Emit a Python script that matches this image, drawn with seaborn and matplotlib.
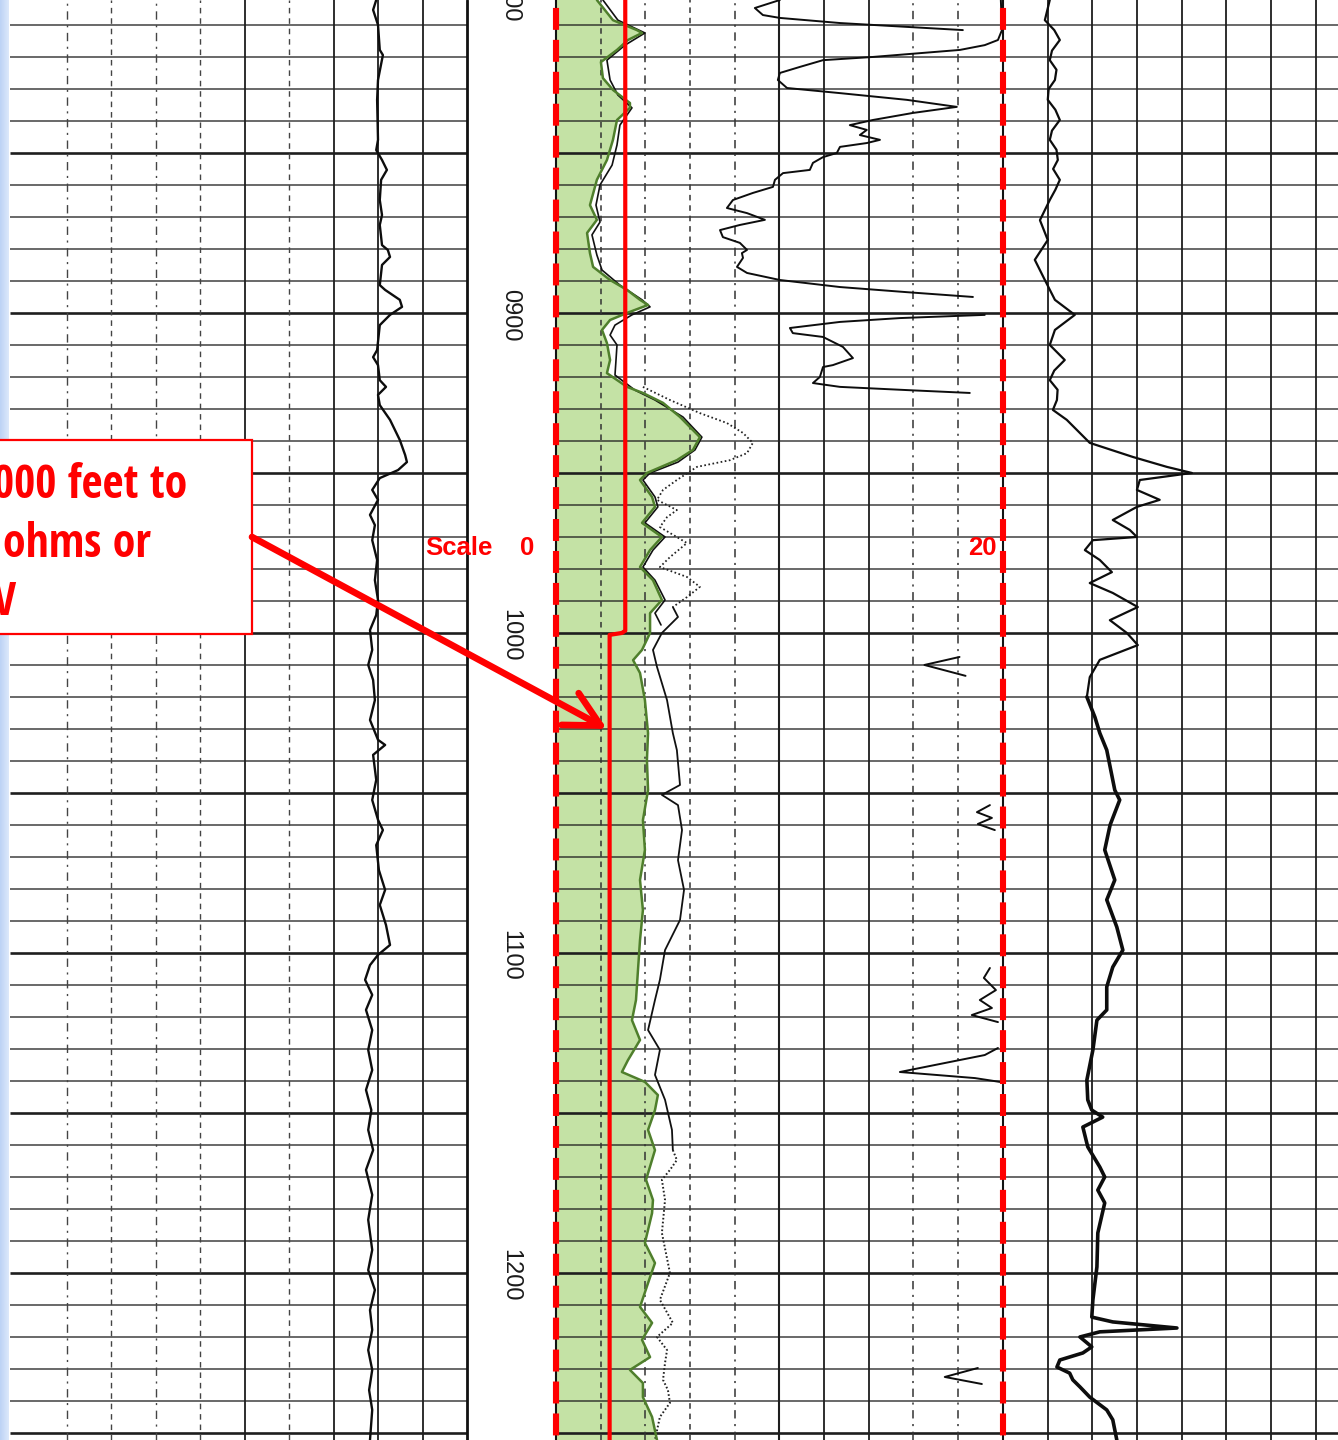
import numpy as np
import pandas as pd
import matplotlib
matplotlib.use("Agg")
import matplotlib.pyplot as plt
import seaborn as sns
from matplotlib import font_manager
from matplotlib.font_manager import FontProperties
from matplotlib.patches import Rectangle

# ------------------------------------------------------------------
# Log section: depth window (ft) and chart grid
# ------------------------------------------------------------------
DEPTH_TOP, DEPTH_BASE = 802.2, 1252.2
grid_depths = list(range(810, 1251, 10))
label_depths = [800, 900, 1000, 1100, 1200]
label_texts = ["0800", "0900", "1000", "1100", "1200"]

# Track 2 scale (SP / resistivity), 0 to 20 across the track
scale_left, scale_right = 0, 20

# ------------------------------------------------------------------
# Track 1 curve (left track, chart divisions)
# ------------------------------------------------------------------
t1_depth = [802.2, 805.3, 810.0, 817.8, 819.4, 827.2, 833.4, 845.9, 849.1, 852.2,
            855.3, 858.4, 864.7, 869.4, 872.5, 878.8, 880.3, 882.5, 885.0, 891.3,
            892.8, 895.9, 898.1, 900.6, 903.8, 911.6, 913.8, 916.3, 921.0, 923.1,
            925.6, 928.8, 933.4, 939.7, 944.4, 946.6, 949.1, 951.6, 955.3, 958.4,
            963.1, 966.3, 971.0, 977.2, 983.5, 989.7, 994.4, 999.1, 1005.3, 1010.0,
            1014.7, 1021.0, 1027.2, 1033.4, 1035.0, 1038.1, 1045.9, 1052.2, 1058.4, 1061.6,
            1066.3, 1074.1, 1080.3, 1085.0, 1091.3, 1097.5, 1100.6, 1103.8, 1108.4, 1113.1,
            1117.8, 1124.1, 1130.3, 1136.6, 1142.8, 1149.1, 1155.3, 1161.6, 1167.8, 1175.6,
            1183.4, 1192.8, 1199.1, 1205.3, 1211.6, 1217.8, 1224.1, 1230.3, 1236.6, 1242.8,
            1252.2]
t1_value = [7.96, 7.89, 8.00, 8.04, 8.11, 8.00, 7.98, 8.00, 7.96, 8.09,
            8.20, 8.07, 8.04, 8.09, 8.04, 8.09, 8.22, 8.27, 8.09, 8.04,
            8.16, 8.49, 8.54, 8.27, 8.04, 7.98, 7.89, 8.00, 8.04, 8.18,
            8.00, 8.04, 8.27, 8.49, 8.61, 8.65, 8.45, 8.04, 7.87, 8.00,
            7.82, 7.93, 7.87, 7.98, 7.93, 8.00, 7.96, 7.82, 7.87, 7.78,
            7.89, 7.93, 7.82, 8.00, 8.16, 7.89, 7.96, 7.87, 8.00, 8.11,
            7.96, 8.02, 8.16, 8.04, 8.18, 8.27, 8.00, 7.82, 7.71, 7.87,
            7.73, 7.87, 7.78, 7.87, 7.73, 7.85, 7.78, 7.89, 7.73, 7.87,
            7.78, 7.87, 7.78, 7.93, 7.82, 7.87, 7.78, 7.87, 7.80, 7.87,
            7.82]

# ------------------------------------------------------------------
# Track 2: SP curve (shaded), short normal, deep curve, long normal
# ------------------------------------------------------------------
sp_depth = [802.2, 808.5, 811.6, 812.5, 814.7, 817.8, 821.6, 826.6, 830.3, 834.4,
            835.9, 839.7, 845.9, 852.2, 858.4, 866.3, 870.9, 875.0, 881.3, 885.6,
            889.7, 892.8, 895.9, 897.5, 900.0, 902.2, 905.3, 909.4, 914.7, 918.8,
            923.1, 925.0, 928.1, 932.5, 938.8, 942.8, 946.0, 950.0, 952.2, 957.5,
            960.6, 965.6, 970.0, 974.1, 979.4, 983.5, 989.7, 993.8, 1000.0, 1005.3,
            1008.5, 1012.5, 1021.0, 1031.3, 1039.7, 1049.1, 1058.5, 1067.8, 1077.2, 1086.6,
            1096.0, 1105.3, 1114.7, 1121.0, 1127.2, 1133.5, 1137.2, 1140.3, 1144.4, 1149.1,
            1155.3, 1161.6, 1170.9, 1177.2, 1181.3, 1190.6, 1196.9, 1201.3, 1210.6, 1215.6,
            1220.9, 1226.3, 1230.3, 1234.4, 1238.8, 1245.0, 1252.2]
sp_value = [1.83, 2.55, 3.62, 3.85, 3.22, 2.73, 2.01, 2.10, 2.55, 3.31,
            3.31, 2.73, 2.55, 2.28, 1.83, 1.52, 1.83, 1.39, 1.52, 1.66,
            2.42, 3.18, 3.76, 4.12, 3.18, 2.42, 2.06, 2.28, 2.42, 2.28,
            3.18, 3.89, 4.79, 5.55, 6.44, 6.13, 5.41, 4.07, 3.76, 4.30,
            4.43, 3.85, 4.74, 4.21, 3.76, 4.34, 4.74, 4.21, 4.21, 3.85,
            3.45, 3.76, 3.98, 4.12, 4.07, 4.12, 3.89, 3.98, 3.76, 3.89,
            3.76, 3.67, 3.58, 3.40, 3.76, 3.22, 2.95, 3.98, 4.56, 4.43,
            4.12, 4.43, 4.03, 4.34, 4.30, 3.98, 4.43, 4.21, 3.76, 4.30,
            3.85, 4.21, 3.31, 3.89, 3.89, 4.30, 4.52]

short_depth = [802.2, 808.5, 812.5, 816.3, 821.0, 827.2, 831.9, 835.9, 841.3, 847.5,
               853.8, 860.0, 866.3, 871.6, 875.6, 881.9, 886.6, 891.3, 895.9, 898.1,
               900.6, 903.8, 906.9, 910.0, 915.3, 919.4, 924.1, 927.2, 932.5, 938.8,
               942.8, 946.6, 950.0, 952.2, 957.5, 960.6, 965.6, 970.0, 974.1, 979.4,
               983.5, 989.7, 993.8, 997.5]
short_value = [2.10, 2.77, 3.98, 3.09, 2.28, 2.42, 2.77, 3.40, 2.86, 2.73,
               2.51, 1.97, 1.79, 1.97, 1.61, 1.83, 2.06, 2.86, 3.85, 4.21,
               3.40, 2.64, 2.42, 2.73, 2.68, 2.64, 3.53, 4.43, 5.68, 6.53,
               6.22, 5.46, 4.21, 3.89, 4.43, 4.56, 3.98, 4.88, 4.34, 3.89,
               4.43, 4.88, 4.43, 4.70]

deep_upper_depth = [923.1, 927.2, 931.3, 934.4, 937.5, 940.6, 943.8, 946.0, 948.1, 952.2,
                    955.3, 958.4, 961.6, 963.8, 966.9, 971.9, 976.3, 979.4, 982.5, 985.6,
                    988.8, 991.9]
deep_upper_value = [3.89, 5.10, 6.44, 7.65, 8.37, 8.81, 8.55, 7.79, 6.31, 5.41,
                    4.79, 4.52, 5.41, 4.97, 4.65, 5.86, 5.10, 4.65, 5.86, 6.44,
                    5.86, 5.23]

deep_mid_depth = [991.9, 995.0, 1000.0, 1005.3, 1010.6, 1021.0, 1031.3, 1036.6, 1047.5, 1050.6,
                  1053.8, 1061.6, 1071.0, 1080.3, 1089.7, 1099.1, 1108.4, 1114.7, 1124.1, 1130.3,
                  1138.1, 1145.9, 1155.3, 1161.6]
deep_mid_value = [5.23, 5.46, 4.74, 4.34, 4.52, 4.97, 5.23, 5.41, 5.55, 4.74,
                  5.46, 5.64, 5.46, 5.73, 5.55, 4.88, 4.65, 4.43, 4.12, 4.65,
                  4.43, 4.88, 5.19, 5.23]

deep_lower_depth = [1161.6, 1164.7, 1167.8, 1170.9, 1177.2, 1187.5, 1200.0, 1208.4, 1215.6, 1220.0,
                    1224.1, 1228.1, 1233.4, 1236.6, 1240.6, 1245.0, 1252.2]
deep_lower_value = [5.23, 5.41, 5.10, 4.74, 4.88, 4.74, 5.10, 4.65, 5.23, 4.52,
                    4.97, 4.88, 4.79, 5.01, 5.10, 4.65, 4.43]

# long normal: traces that run off scale are recorded as separate pieces
ln_a_depth = [802.2, 804.7, 806.9, 807.8, 809.4, 810.6, 811.6]
ln_a_value = [10.02, 8.90, 9.26, 10.02, 12.71, 15.70, 18.21]

ln_b_depth = [802.2, 811.6, 814.7, 816.3, 817.8, 820.0, 821.0, 823.1, 825.0, 827.2,
              829.7, 831.3, 833.4, 835.6, 837.5, 839.7, 841.3, 842.8, 844.4, 845.9,
              846.9, 848.1, 850.0, 851.3, 853.1, 855.3, 856.3, 858.4, 860.6, 862.5,
              864.7, 867.2, 868.8, 870.9, 872.5, 874.1, 876.3, 878.1, 880.3, 881.3,
              882.8, 885.6, 887.5, 889.7, 891.9, 893.5, 895.0]
ln_b_value = [19.91, 19.96, 19.78, 19.19, 18.08, 14.18, 11.95, 10.92, 10.02, 9.93,
              10.34, 12.71, 15.70, 17.94, 15.97, 14.18, 13.15, 13.91, 13.60, 14.50,
              13.91, 12.71, 12.57, 11.95, 11.50, 11.36, 10.16, 9.80, 9.71, 8.81,
              7.92, 7.65, 8.55, 9.35, 8.23, 7.34, 7.47, 8.23, 8.55, 8.32,
              8.37, 8.10, 8.55, 10.02, 12.71, 15.70, 18.66]

ln_c_depth = [900.6, 901.6, 902.8, 904.7, 906.3, 907.5, 910.6, 914.1, 916.3, 916.9,
              920.0, 921.9, 923.1, 924.1, 925.0]
ln_c_value = [19.19, 15.39, 12.71, 10.47, 10.60, 11.95, 12.84, 13.29, 12.39, 11.95,
              11.81, 11.50, 12.71, 15.70, 18.52]

ln_d_depth = [1007.5, 1010.0, 1013.4]
ln_d_value = [18.06, 16.49, 18.33]
ln_e_depth = [1053.8, 1056.0, 1057.8, 1059.7, 1061.6]
ln_e_value = [19.42, 18.84, 19.51, 18.88, 19.64]
ln_f_depth = [1104.7, 1107.8, 1111.6, 1114.7, 1117.2, 1119.4, 1121.6]
ln_f_value = [19.42, 19.15, 19.69, 18.97, 19.51, 18.61, 19.78]
ln_g_depth = [1129.7, 1131.9, 1137.2, 1139.1, 1140.3]
ln_g_value = [19.78, 19.19, 15.39, 18.75, 19.87]
ln_h_depth = [1229.7, 1232.5, 1234.7]
ln_h_value = [18.88, 17.40, 19.06]

# water-resistivity marker line (scale units) with its step at 1000 ft
rw_depth = [802.2, 999.3, 1000.0, 1000.6, 1252.2]
rw_value = [3.10, 3.10, 2.95, 2.40, 2.40]

# ------------------------------------------------------------------
# Track 3 curve (right track, same chart units continued)
# ------------------------------------------------------------------
t3_depth = [802.2, 808.5, 811.6, 814.7, 818.0, 821.0, 824.0, 827.2, 830.0, 833.4,
            836.5, 839.7, 843.0, 845.9, 849.0, 852.2, 855.0, 858.4, 861.5, 864.7,
            871.0, 877.2, 883.4, 889.7, 895.9, 900.6, 905.3, 910.0, 914.7, 918.0,
            921.0, 924.0, 927.2, 930.3, 933.4, 940.6, 945.0, 948.1, 950.0, 952.2,
            955.3, 958.4, 960.6, 964.7, 967.8, 970.0, 971.0, 974.1, 977.2, 981.0,
            984.4, 987.5, 991.9, 996.0, 1000.0, 1003.8, 1008.4, 1013.8, 1020.0, 1026.3,
            1031.3, 1036.6, 1049.1, 1052.2, 1060.0, 1067.8, 1077.2, 1083.4, 1091.9, 1099.1,
            1104.4, 1110.6, 1117.8, 1121.0, 1130.3, 1139.7, 1145.9, 1149.1, 1151.3, 1154.4,
            1160.6, 1166.9, 1170.0, 1174.1, 1178.1, 1187.5, 1198.1, 1208.4, 1213.8, 1215.3,
            1217.2, 1218.4, 1220.0, 1223.1, 1225.0, 1227.2, 1229.4, 1231.3, 1233.4, 1235.6,
            1238.8, 1242.8, 1245.9, 1252.2]
t3_value = [22.10, 21.88, 22.30, 22.55, 22.20, 22.10, 22.40, 22.33, 22.05, 22.01,
            22.35, 22.55, 22.20, 22.10, 22.40, 22.46, 22.25, 22.55, 22.35, 22.10,
            21.66, 22.01, 21.43, 21.88, 22.33, 23.22, 22.33, 22.10, 22.77, 22.30,
            22.10, 22.45, 22.42, 22.24, 22.86, 23.89, 25.82, 27.34, 28.46, 26.13,
            26.00, 27.02, 26.00, 24.92, 25.68, 26.00, 24.03, 23.67, 24.34, 24.88,
            23.89, 24.92, 26.04, 24.79, 25.55, 26.04, 24.34, 23.89, 23.76, 24.12,
            24.34, 24.65, 25.01, 25.23, 24.80, 24.56, 25.01, 24.65, 25.10, 25.37,
            24.92, 24.65, 24.65, 24.21, 24.03, 23.76, 23.80, 23.98, 24.47, 23.58,
            23.80, 24.34, 24.56, 24.25, 24.56, 24.25, 24.21, 24.03, 23.98, 24.92,
            27.79, 24.34, 23.45, 23.98, 23.58, 22.55, 22.42, 22.99, 23.13, 23.45,
            23.89, 24.65, 24.92, 25.10]

# ------------------------------------------------------------------
# Figure layout (pixel based, 1338 x 1440)
# ------------------------------------------------------------------
W, H = 1338, 1440
sns.set_theme(style="white")
plt.rcParams["font.family"] = ["Liberation Sans", "DejaVu Sans"]
plt.rcParams["lines.scale_dashes"] = False


def pick_note_font():
    """Prefer a narrow bold sans for the callout; fall back to Liberation Sans Bold."""
    wanted = [("Liberation Sans Narrow", 33), ("Open Sans Condensed", 33),
              ("Roboto Condensed", 34), ("Noto Sans Condensed", 33),
              ("Noto Sans", 33), ("DejaVu Sans", 29)]
    fonts = font_manager.fontManager.ttflist
    for fam, size in wanted:
        for f in fonts:
            w = f.weight if isinstance(f.weight, int) else 700 if "bold" in str(f.weight).lower() else 400
            narrow = ("Narrow" in f.name or "Condensed" in f.name
                      or str(f.stretch) in ("condensed", "semi-condensed", "extra-condensed")
                      or "ondensed" in f.fname or "Narrow" in f.fname)
            if f.name == fam and w >= 600 and narrow and "talic" not in f.fname:
                return FontProperties(fname=f.fname, size=size)
    return FontProperties(family="Liberation Sans", weight="bold", size=28.5)


note_font = pick_note_font()

fig = plt.figure(figsize=(W / 100, H / 100), dpi=100)
fig.patch.set_facecolor("white")


def track_axes(x0, x1, xlim):
    ax = fig.add_axes([x0 / W, 0, (x1 - x0) / W, 1])
    ax.set_xlim(*xlim)
    ax.set_ylim(DEPTH_BASE, DEPTH_TOP)
    ax.set_axis_off()
    ax.patch.set_alpha(0)
    return ax


ax1 = track_axes(10, 467, (-0.27, 10.0))
axd = track_axes(467, 556, (0, 1))
ax2 = track_axes(540, 1338, (-0.716, 35.0))

GRID = "#1e1e1e"
DASHDOT = (0, (6, 4, 1.5, 4))
DASHED = (0, (4, 3.5))


def hgrid(ax, x0, x1):
    for d in grid_depths:
        heavy = d % 50 == 0
        ax.hlines(d, x0, x1, colors=GRID, lw=1.9 if heavy else 1.1,
                  alpha=1.0 if heavy else 0.85, zorder=1)


# Track 1 grid
hgrid(ax1, -0.27, 10.0)
for u in range(1, 11):
    if u in (5, 7, 8, 9):
        ax1.axvline(u, color=GRID, lw=1.3, zorder=1)
    elif u == 10:
        ax1.axvline(u, color="#111", lw=2.0, zorder=1)
    elif u in (1, 3):
        ax1.axvline(u, color="#444", lw=1.0, ls=DASHDOT, zorder=1)
    else:
        ax1.axvline(u, color="#444", lw=1.0, ls=DASHED, zorder=1)

# Track 2/3 grid
hgrid(ax2, 0, 35.0)
for v in range(2, 35, 2):
    if v in (4, 8, 16, 18):
        ax2.axvline(v, color="#333", lw=1.1, ls=DASHDOT, zorder=1)
    elif v in (2, 6):
        ax2.axvline(v, color="#333", lw=1.1, ls=DASHED, zorder=1)
    else:
        ax2.axvline(v, color=GRID, lw=1.5 if v in (10, 20) else 1.3, zorder=1)
ax2.axvline(0, color="#111", lw=1.5, zorder=1)


def draw_curve(ax, depth, value, **kw):
    df = pd.DataFrame({"depth": depth, "value": value})
    sns.lineplot(data=df, x="value", y="depth", sort=False, estimator=None,
                 ax=ax, legend=False, **kw)


# SP shading and curve
ax2.fill_betweenx(sp_depth, scale_left, sp_value, color="#c4e2a5", lw=0, zorder=0.5)
draw_curve(ax2, short_depth, short_value, color="#111", lw=1.2, zorder=2)
draw_curve(ax2, sp_depth, sp_value, color="#4f7f2c", lw=1.8, zorder=3)

# Deep curve: dotted where faint, solid where inked
draw_curve(ax2, deep_upper_depth, deep_upper_value, color="#222", lw=1.3,
           linestyle=(0, (1.2, 1.8)), zorder=2)
draw_curve(ax2, deep_mid_depth, deep_mid_value, color="#111", lw=1.3, zorder=2)
draw_curve(ax2, deep_lower_depth, deep_lower_value, color="#222", lw=1.4,
           linestyle=(0, (1.2, 1.6)), zorder=2)

# Long normal pieces
for dd, vv in [(ln_a_depth, ln_a_value), (ln_b_depth, ln_b_value), (ln_c_depth, ln_c_value),
               (ln_d_depth, ln_d_value), (ln_e_depth, ln_e_value), (ln_f_depth, ln_f_value),
               (ln_g_depth, ln_g_value), (ln_h_depth, ln_h_value)]:
    draw_curve(ax2, dd, vv, color="#0d0d0d", lw=1.4, zorder=2)

# Track 1 and Track 3 curves (track 3 ink is heavier below ~1020 ft)
draw_curve(ax1, t1_depth, t1_value, color="#0d0d0d", lw=1.7, zorder=2)
t3 = pd.DataFrame({"depth": t3_depth, "value": t3_value})
upper = t3[t3["depth"] <= 1020.0]
lower = t3[t3["depth"] >= 1020.0]
draw_curve(ax2, upper["depth"].tolist(), upper["value"].tolist(), color="#0d0d0d", lw=1.6, zorder=2)
draw_curve(ax2, lower["depth"].tolist(), lower["value"].tolist(), color="#0d0d0d", lw=2.6, zorder=2)

# Scale edges (red dashed) and Rw marker (red solid)
for v in (scale_left, scale_right):
    ax2.plot([v, v], [DEPTH_TOP, DEPTH_BASE], color="#111", lw=1.3, zorder=3)
    ax2.plot([v, v], [DEPTH_TOP, DEPTH_BASE], color="#ff0000", lw=4.4,
             ls=(17.3, (15.8, 7.2)), solid_capstyle="butt", zorder=4)
ax2.plot(rw_value, rw_depth, color="#ff0000", lw=3.0, zorder=4, solid_joinstyle="round")

# Depth labels
for d, t in zip(label_depths, label_texts):
    axd.text(0.483, d + 0.6, t, rotation=-90, ha="center", va="center",
             fontsize=17, color="#1a1a1a", clip_on=True)
axd.axvline(0.0, color="#111", lw=2.0)

for ax in (ax1, axd, ax2):
    ax.set_xlabel("")
    ax.set_ylabel("")
    ax.set_ylim(DEPTH_BASE, DEPTH_TOP)
ax1.set_xlim(-0.27, 10.0)
axd.set_xlim(0, 1)
ax2.set_xlim(-0.716, 35.0)

# ------------------------------------------------------------------
# Annotations (figure pixel space)
# ------------------------------------------------------------------
ov = fig.add_axes([0, 0, 1, 1], zorder=10)
ov.set_axis_off()
ov.patch.set_alpha(0)

grad = np.linspace(0, 1, 64)[None, :]
ov.imshow(grad, extent=(0, 9, H, 0), cmap=matplotlib.colors.LinearSegmentedColormap.from_list(
    "edge", ["#bcd2f5", "#dde9fb"]), aspect="auto", zorder=0)
ov.set_xlim(0, W)
ov.set_ylim(H, 0)

ov.add_patch(Rectangle((-5, 440), 257, 194, facecolor="white", edgecolor="#ff0000",
                       lw=1.6, zorder=5))
note_kw = dict(color="#ff0000", fontproperties=note_font, va="baseline", ha="left", zorder=6)
ov.text(-7, 498, "000 feet to", **note_kw)
ov.text(3, 557, "ohms or", **note_kw)
ov.text(-7, 615, "V", **note_kw)

ov.annotate("", xy=(607, 729), xytext=(252, 537),
            arrowprops=dict(arrowstyle="->,head_length=1.25,head_width=0.65",
                            color="#ff0000", lw=4.8, shrinkA=0, shrinkB=0,
                            mutation_scale=20), zorder=7)

lab_kw = dict(color="#ff0000", fontweight="bold", fontsize=18.5, va="baseline", zorder=6)
ov.text(425, 555, "Scale", ha="left", **lab_kw)
ov.text(520, 555, "0", ha="left", **lab_kw)
ov.text(997, 555, "20", ha="right", **lab_kw)

fig.savefig("out.png", dpi=100, facecolor="white")
